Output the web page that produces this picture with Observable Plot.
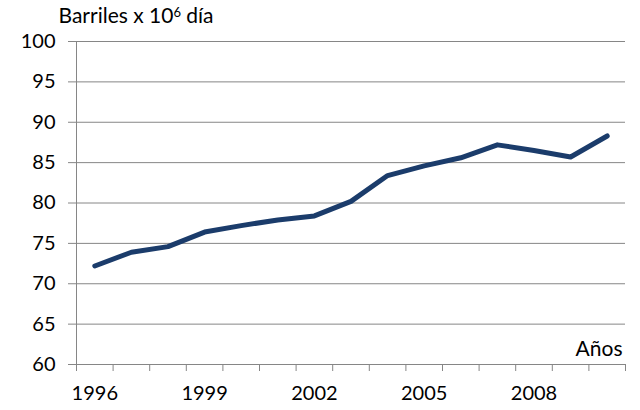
<!DOCTYPE html>
<html>
<head>
<meta charset="utf-8">
<script src="https://cdn.jsdelivr.net/npm/d3@7"></script>
<script src="https://cdn.jsdelivr.net/npm/@observablehq/plot@0.6"></script>
<style>
  body { margin: 0; background: #fff; }
</style>
</head>
<body>
<div id="chart"></div>
<script>
const years = [1996, 1997, 1998, 1999, 2000, 2001, 2002, 2003, 2004, 2005, 2006, 2007, 2008, 2009, 2010];
const barrels = [72.2, 73.9, 74.6, 76.4, 77.2, 77.9, 78.4, 80.2, 83.4, 84.6, 85.6, 87.2, 86.5, 85.7, 88.3];
const yTicks = [60, 65, 70, 75, 80, 85, 90, 95, 100];
const xLabelYears = [1996, 1999, 2002, 2005, 2008];
const yTitleMain = "Barriles x 10";
const yTitleSup = "6";
const yTitleEnd = " día";
const xTitle = "Años";

const data = years.map((y, i) => ({year: y, value: barrels[i]}));
const boundaries = years.map(y => y - 0.5).concat([years[years.length - 1] + 0.5]);

const chart = Plot.plot({
  width: 640,
  height: 410,
  marginLeft: 76,
  marginRight: 15,
  marginTop: 41,
  marginBottom: 46,
  style: {fontFamily: "Lato, 'Open Sans', sans-serif", fontSize: "20px", color: "#000", background: "#fff"},
  x: {domain: [years[0] - 0.5, years[years.length - 1] + 0.5]},
  y: {domain: [60, 100]},
  marks: [
    Plot.ruleY(yTicks, {stroke: "#868686", strokeWidth: 1, strokeOpacity: 1}),
    Plot.axisY({ticks: yTicks, tickSize: 8, tickPadding: 13, stroke: "#868686", strokeOpacity: 1, label: null, fontSize: 20}),
    Plot.ruleX([years[0] - 0.5], {stroke: "#868686", strokeWidth: 1}),
    Plot.axisX({ticks: boundaries, tickSize: 7, tickFormat: () => "", stroke: "#868686", strokeOpacity: 1, label: null}),
    Plot.axisX({ticks: xLabelYears, tickSize: 0, tickPadding: 21, tickFormat: d => String(d), label: null, fontSize: 20}),
    Plot.line(data, {x: "year", y: "value", stroke: "#1B3C6B", strokeWidth: 5, strokeLinejoin: "round", strokeLinecap: "round"}),
    Plot.text([yTitleMain + yTitleSup + yTitleEnd], {frameAnchor: "top-left", dx: -18, dy: -25, textAnchor: "start", lineAnchor: "middle", fontSize: 21, className: "ytitle"}),
    Plot.text([xTitle], {frameAnchor: "bottom-right", dx: -3, dy: -9, textAnchor: "end", lineAnchor: "bottom", fontSize: 21})
  ]
});
// render the exponent as a real superscript
const t = chart.querySelector(".ytitle text");
if (t) {
  t.textContent = "";
  const ns = "http://www.w3.org/2000/svg";
  const a = document.createElementNS(ns, "tspan"); a.textContent = yTitleMain;
  const b = document.createElementNS(ns, "tspan"); b.textContent = yTitleSup;
  b.setAttribute("dy", "-0.45em"); b.setAttribute("font-size", "13");
  const c = document.createElementNS(ns, "tspan"); c.textContent = yTitleEnd;
  c.setAttribute("dy", "0.45em");
  c.setAttribute("dy", String(0.45 * 13) );
  t.append(a, b, c);
}
document.getElementById("chart").appendChild(chart);
</script>
</body>
</html>
